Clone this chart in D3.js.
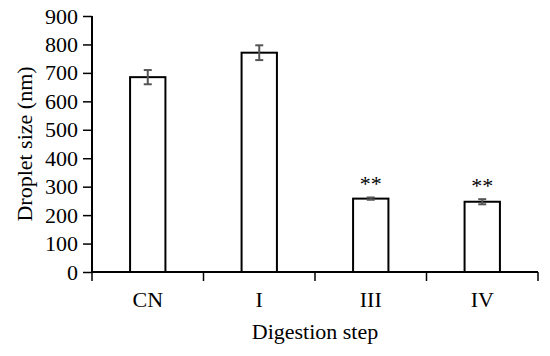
<!DOCTYPE html>
<html>
<head>
<meta charset="utf-8">
<script src="https://cdn.jsdelivr.net/npm/d3@7"></script>
<style>
  body { margin: 0; background: #fff; }
  text { font-family: "Liberation Serif", "Times New Roman", serif; }
</style>
</head>
<body>
<script>
// chart data
var steps = ["CN", "I", "III", "IV"];
var sizes = [685, 771, 258, 247];
var errors = [25, 26, 4, 9];
var marks = ["", "", "**", "**"];
var yTicks = [0, 100, 200, 300, 400, 500, 600, 700, 800, 900];

let chart = function() {
    let w = 550;
    let h = 356;
    let margin = {top: 16, right: 12, bottom: 84, left: 92};
    let fs = "22px";

    let svg = d3.select("body")
        .append("svg")
        .attr("width", w)
        .attr("height", h);

    let x = d3.scaleBand()
        .domain(steps)
        .range([margin.left, w - margin.right])
        .paddingInner(0.683)
        .paddingOuter(0.3415);

    let y = d3.scaleLinear()
        .domain([0, 900])
        .range([h - margin.bottom, margin.top]);

    let step = x.step();
    let x0 = margin.left;

    // bars
    svg.selectAll("rect.bar")
        .data(steps)
        .enter()
        .append("rect")
        .attr("class", "bar")
        .attr("x", function(d) { return x(d); })
        .attr("y", function(d, i) { return y(sizes[i]); })
        .attr("width", x.bandwidth())
        .attr("height", function(d, i) { return y(0) - y(sizes[i]); })
        .attr("fill", "#fff")
        .attr("stroke", "#000")
        .attr("stroke-width", 2);

    // error bars
    let eb = svg.selectAll("g.err")
        .data(steps)
        .enter()
        .append("g")
        .attr("class", "err")
        .attr("stroke", "#555")
        .attr("stroke-width", 2);
    let cx = function(d) { return x(d) + x.bandwidth() / 2; };
    eb.append("line")
        .attr("x1", cx).attr("x2", cx)
        .attr("y1", function(d, i) { return y(sizes[i] + errors[i]); })
        .attr("y2", function(d, i) { return y(sizes[i] - errors[i]); });
    eb.append("line")
        .attr("x1", function(d) { return cx(d) - 4; })
        .attr("x2", function(d) { return cx(d) + 4; })
        .attr("y1", function(d, i) { return y(sizes[i] + errors[i]); })
        .attr("y2", function(d, i) { return y(sizes[i] + errors[i]); });
    eb.append("line")
        .attr("x1", function(d) { return cx(d) - 4; })
        .attr("x2", function(d) { return cx(d) + 4; })
        .attr("y1", function(d, i) { return y(sizes[i] - errors[i]); })
        .attr("y2", function(d, i) { return y(sizes[i] - errors[i]); });

    // significance marks
    svg.selectAll("text.sig")
        .data(steps)
        .enter()
        .append("text")
        .attr("class", "sig")
        .text(function(d, i) { return marks[i]; })
        .attr("x", cx)
        .attr("y", function(d, i) { return y(sizes[i] + errors[i]) - 6; })
        .attr("text-anchor", "middle")
        .attr("font-size", fs)
        .attr("fill", "#000");

    // y axis
    let yAxis = svg.append("g")
        .attr("transform", "translate(" + margin.left + ",0)")
        .call(d3.axisLeft(y).tickValues(yTicks).tickSize(9).tickPadding(5));
    yAxis.select(".domain").attr("stroke-width", 2).attr("d",
        "M0," + y(900) + "V" + y(0));
    yAxis.selectAll(".tick line").attr("stroke-width", 1.5);
    yAxis.selectAll("text")
        .attr("font-size", fs)
        .attr("fill", "#000");

    // x axis with boundary ticks
    let xAxis = svg.append("g")
        .attr("transform", "translate(0," + y(0) + ")");
    xAxis.append("line")
        .attr("x1", margin.left).attr("x2", w - margin.right)
        .attr("stroke", "#000").attr("stroke-width", 2);
    xAxis.selectAll("line.tk")
        .data(d3.range(steps.length + 1))
        .enter()
        .append("line")
        .attr("class", "tk")
        .attr("x1", function(d) { return x0 + d * step; })
        .attr("x2", function(d) { return x0 + d * step; })
        .attr("y1", 0).attr("y2", 9)
        .attr("stroke", "#000").attr("stroke-width", 1.5);
    xAxis.selectAll("text")
        .data(steps)
        .enter()
        .append("text")
        .text(function(d) { return d; })
        .attr("x", cx)
        .attr("y", 35)
        .attr("text-anchor", "middle")
        .attr("font-size", fs)
        .attr("fill", "#000");

    // axis titles
    svg.append("text")
        .text("Digestion step")
        .attr("x", (margin.left + w - margin.right) / 2)
        .attr("y", 339)
        .attr("text-anchor", "middle")
        .attr("font-size", fs)
        .attr("fill", "#000");

    svg.append("text")
        .text("Droplet size (nm)")
        .attr("transform", "translate(32," + 144 + ") rotate(-90)")
        .attr("text-anchor", "middle")
        .attr("font-size", fs)
        .attr("fill", "#000");
}

chart();
</script>
</body>
</html>
